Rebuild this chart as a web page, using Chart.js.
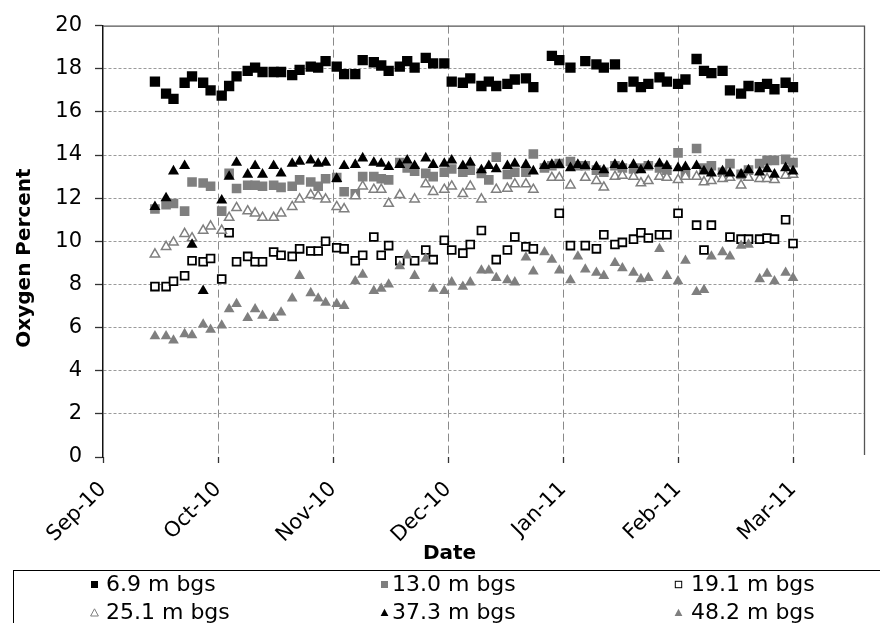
<!DOCTYPE html>
<html>
<head>
<meta charset="utf-8">
<script src="https://cdn.jsdelivr.net/npm/chart.js@4.4.0/dist/chart.umd.min.js"></script>
<style>
  html, body { margin: 0; padding: 0; background: #fff; }
  #wrap { position: relative; width: 880px; height: 623px; overflow: hidden; background: #fff; }
  #c { position: absolute; left: 0; top: 0; }
  #legendBox { position: absolute; left: 13px; top: 570px; width: 900px; height: 80px; border: 1.5px solid #000; box-sizing: border-box; }
  .lg { position: absolute; font-family: 'DejaVu Sans', sans-serif; font-size: 22px; line-height: 26px; white-space: nowrap; color: #000; }
  .mk { position: absolute; line-height: 0; }
  .mk svg { display: block; }
</style>
</head>
<body>
<div id="wrap">
  <canvas id="c" width="880" height="623"></canvas>
  <div id="legendBox"></div>
</div>
<script>
// ---------------- data ----------------
const axisStart = '2010-09-01';           // left end of the date axis
const tickStepDays = 31;                   // major unit of the date axis
const tickLabels = ['Sep-10', 'Oct-10', 'Nov-10', 'Dec-10', 'Jan-11', 'Feb-11', 'Mar-11'];
const seriesNames = ['6.9 m bgs', '13.0 m bgs', '19.1 m bgs', '25.1 m bgs', '37.3 m bgs', '48.2 m bgs'];

const dates = [
  '2010-09-15','2010-09-18','2010-09-20','2010-09-23','2010-09-25','2010-09-28','2010-09-30','2010-10-03','2010-10-05','2010-10-07',
  '2010-10-10','2010-10-12','2010-10-14','2010-10-17','2010-10-19','2010-10-22','2010-10-24','2010-10-27','2010-10-29','2010-10-31',
  '2010-11-03','2010-11-05','2010-11-08','2010-11-10','2010-11-13','2010-11-15','2010-11-17','2010-11-20','2010-11-22','2010-11-24',
  '2010-11-27','2010-11-29','2010-12-02','2010-12-04','2010-12-07','2010-12-09','2010-12-12','2010-12-14','2010-12-16','2010-12-19',
  '2010-12-21','2010-12-24','2010-12-26','2010-12-29','2010-12-31','2011-01-02','2011-01-05','2011-01-07','2011-01-09','2011-01-12',
  '2011-01-14','2011-01-17','2011-01-19','2011-01-22','2011-01-24','2011-01-26','2011-01-29','2011-01-31','2011-02-03','2011-02-05',
  '2011-02-08','2011-02-10','2011-02-12','2011-02-15','2011-02-17','2011-02-20','2011-02-22','2011-02-25','2011-02-27','2011-03-01',
  '2011-03-04','2011-03-06'
];

const o2_6_9 = [
  17.4,16.85,16.6,17.35,17.65,17.35,17.0,16.75,17.2,17.65,
  17.9,18.05,17.85,17.85,17.85,17.7,17.95,18.1,18.05,18.35,
  18.1,17.75,17.75,18.4,18.3,18.15,17.9,18.1,18.35,18.05,
  18.5,18.25,18.25,17.4,17.35,17.55,17.2,17.4,17.2,17.3,
  17.5,17.55,17.15,null,18.6,18.4,18.05,null,18.35,18.2,
  18.05,18.2,17.15,17.4,17.15,17.3,17.6,17.4,17.3,17.5,
  18.45,17.9,17.8,17.9,17.0,16.85,17.2,17.15,17.3,17.05,
  17.35,17.15
];
const o2_13_0 = [
  11.5,11.7,11.75,11.4,12.75,12.7,12.55,11.4,13.15,12.45,
  12.6,12.6,12.55,12.6,12.5,12.55,12.85,12.75,12.55,12.9,
  12.95,12.3,12.2,13.0,13.0,12.9,12.85,13.65,13.4,13.25,
  13.15,13.0,13.2,13.35,13.2,13.3,13.15,12.85,13.9,13.1,
  13.2,13.2,14.05,13.4,13.5,13.6,13.7,13.5,13.5,13.3,
  13.2,13.5,13.4,13.35,13.4,13.5,13.4,13.3,14.1,13.2,
  14.3,13.4,13.5,13.2,13.6,13.1,13.3,13.6,13.75,13.75,
  13.8,13.65
];
const o2_19_1 = [
  7.9,7.9,8.15,8.4,9.1,9.05,9.2,8.25,10.4,9.05,
  9.3,9.05,9.05,9.5,9.35,9.3,9.65,9.55,9.55,10.0,
  9.7,9.65,9.1,9.35,10.2,9.35,9.8,9.1,null,9.1,
  9.6,9.15,10.05,9.6,9.45,9.85,10.5,null,9.15,9.6,
  10.2,9.75,9.65,null,null,11.3,9.8,null,9.8,9.65,
  10.3,9.85,9.95,10.1,10.4,10.15,10.3,10.3,11.3,null,
  10.75,9.6,10.75,null,10.2,10.1,10.1,10.1,10.15,10.1,
  11.0,9.9
];
const o2_25_1 = [
  9.4,9.75,9.95,10.35,10.15,10.5,10.7,10.5,11.1,11.55,
  11.4,11.3,11.1,11.1,11.3,11.6,11.95,12.15,12.1,11.95,
  11.6,11.5,12.1,12.55,12.4,12.4,11.75,12.15,null,11.95,
  12.65,12.3,12.4,12.55,12.2,12.55,11.95,null,12.4,12.45,
  12.65,12.65,12.4,null,12.95,12.95,12.6,null,12.95,12.8,
  12.5,13.0,13.05,13.0,12.7,12.8,13.0,12.95,12.85,13.0,
  13.0,12.75,12.8,12.9,12.95,12.6,12.95,12.9,12.9,12.85,
  13.05,13.1
];
const o2_37_3 = [
  11.6,12.0,13.25,13.5,9.85,7.7,null,11.9,13.0,13.65,
  13.1,13.5,13.1,13.5,13.15,13.6,13.7,13.75,13.6,13.65,
  12.9,13.5,13.55,13.85,13.65,13.6,13.45,13.55,13.75,13.5,
  13.85,13.55,13.6,13.75,13.5,13.65,13.3,13.5,13.35,13.5,
  13.6,13.55,13.25,13.5,13.55,13.55,13.4,13.55,13.5,13.45,
  13.3,13.55,13.5,13.55,13.3,13.5,13.6,13.5,13.4,13.45,
  13.5,13.25,13.15,13.25,13.15,13.1,13.3,13.2,13.35,13.1,
  13.4,13.25
];
const o2_48_2 = [
  5.6,5.6,5.4,5.7,5.65,6.15,5.9,6.1,6.85,7.1,
  6.45,6.85,6.55,6.45,6.7,7.35,8.4,7.6,7.35,7.15,
  7.1,7.0,8.15,8.45,7.7,7.8,8.0,8.85,9.35,8.4,
  9.2,7.8,7.7,8.1,7.9,8.1,8.65,8.65,8.3,8.2,
  8.1,9.25,8.6,9.5,9.15,8.65,8.2,9.3,8.7,8.55,
  8.4,9.0,8.75,8.55,8.25,8.3,9.65,8.4,8.15,9.1,
  7.65,7.75,9.3,9.5,9.3,9.8,9.85,8.25,8.5,8.15,
  8.55,8.3
];
const yTicks = { min: 0, max: 20, step: 2 };

// ---------------- helpers ----------------
const DAY = 86400000;
const t0 = Date.parse(axisStart + 'T00:00:00Z');
const toDays = s => Math.round((Date.parse(s + 'T00:00:00Z') - t0) / DAY);
const xDays = dates.map(toDays);
const toPoints = vals => vals.map((v, i) => ({ x: xDays[i], y: v })).filter(p => p.y !== null);

const seriesValues = [o2_6_9, o2_13_0, o2_19_1, o2_25_1, o2_37_3, o2_48_2];
const GRAY = '#7f7f7f';
const styles = [
  { pointStyle: 'rect',     radius: 7.3, bg: '#000', border: '#000', bw: 0 },
  { pointStyle: 'rect',     radius: 6.8, bg: GRAY,   border: GRAY,   bw: 0 },
  { pointStyle: 'rect',     radius: 5.5, bg: '#fff', border: '#000', bw: 1.8 },
  { pointStyle: 'triangle', radius: 5.4, bg: '#fff', border: GRAY,   bw: 1.5 },
  { pointStyle: 'triangle', radius: 6.4, bg: '#000', border: '#000', bw: 0 },
  { pointStyle: 'triangle', radius: 6.2, bg: GRAY,   border: GRAY,   bw: 0 }
];

const datasets = seriesValues.map((vals, i) => ({
  label: seriesNames[i],
  data: toPoints(vals),
  showLine: false,
  pointStyle: styles[i].pointStyle,
  pointRadius: styles[i].radius,
  pointHoverRadius: styles[i].radius,
  pointBackgroundColor: styles[i].bg,
  pointBorderColor: styles[i].border,
  pointBorderWidth: styles[i].bw,
  order: seriesValues.length - i
}));

const tickValues = tickLabels.map((_, i) => i * tickStepDays);
const xMax = 205.4;

const framePlugin = {
  id: 'frame',
  beforeDatasetsDraw(chart) {
    const { ctx, chartArea: a } = chart;
    ctx.save();
    ctx.strokeStyle = '#555';
    ctx.lineWidth = 1.3;
    ctx.beginPath();
    ctx.moveTo(a.left, a.top + 0.5);
    ctx.lineTo(a.right - 0.5, a.top + 0.5);
    ctx.lineTo(a.right - 0.5, a.bottom - 2);
    ctx.stroke();
    ctx.restore();
  },
  afterDraw(chart) {
    const { ctx } = chart;
    ctx.save();
    ctx.fillStyle = '#000';
    ctx.font = 'bold 20px "DejaVu Sans"';
    ctx.textAlign = 'center';
    ctx.textBaseline = 'alphabetic';
    ctx.fillText('Date', 449.5, 559);
    ctx.translate(30, 258);
    ctx.rotate(-Math.PI / 2);
    ctx.fillText('Oxygen Percent', 0, 0);
    ctx.restore();
  }
};

Chart.defaults.font.family = '"DejaVu Sans", sans-serif';
Chart.defaults.color = '#000';

new Chart(document.getElementById('c'), {
  type: 'scatter',
  data: { datasets },
  options: {
    responsive: false,
    animation: false,
    events: [],
    layout: { padding: { top: 21, right: 15, left: 0, bottom: 0 }, autoPadding: false },
    plugins: { legend: { display: false }, tooltip: { enabled: false }, title: { display: false } },
    scales: {
      x: {
        type: 'linear',
        min: 0,
        max: xMax,
        afterBuildTicks: s => { s.ticks = tickValues.map(v => ({ value: v })); },
        afterFit: s => { s.height = 166; },
        ticks: {
          autoSkip: false,
          maxRotation: 45,
          minRotation: 45,
          padding: 14,
          font: { size: 21 },
          color: '#000',
          callback: (v, i) => tickLabels[i]
        },
        grid: {
          color: c => (c.tick && c.tick.value === 0) ? 'rgba(0,0,0,0)' : '#8a8a8a',
          lineWidth: 1,
          tickLength: 6,
          tickColor: '#333',
          tickWidth: 1.3
        },
        border: { display: false, dash: [8, 4] }
      },
      y: {
        min: yTicks.min,
        max: yTicks.max,
        afterFit: s => { s.width = 103; },
        ticks: { stepSize: yTicks.step, padding: 13, font: { size: 21 }, color: '#000' },
        grid: {
          color: c => (c.tick && (c.tick.value === yTicks.min || c.tick.value === yTicks.max)) ? 'rgba(0,0,0,0)' : '#9a9a9a',
          lineWidth: 1,
          tickLength: 8,
          tickColor: '#333',
          tickWidth: 1.3
        },
        border: { display: true, color: '#111', width: 1.5, dash: [3, 2] }
      }
    }
  },
  plugins: [framePlugin]
});

// ---------------- legend (HTML) ----------------
const legendSlots = [
  { mx: 94, tx: 106, cy: 584 }, { mx: 384, tx: 392, cy: 584 }, { mx: 678, tx: 691, cy: 584 },
  { mx: 94, tx: 106, cy: 612 }, { mx: 384, tx: 392, cy: 612 }, { mx: 678, tx: 691, cy: 612 }
];
const wrap = document.getElementById('wrap');
function markerSVG(st) {
  const s = 9;
  let shape;
  if (st.pointStyle === 'rect') {
    const half = st.bw ? 3.2 : 3.5;
    shape = `<rect x="${4.5 - half}" y="${4.5 - half}" width="${2 * half}" height="${2 * half}" fill="${st.bg}" stroke="${st.bw ? st.border : 'none'}" stroke-width="${st.bw ? 1 : 0}"/>`;
  } else {
    shape = `<polygon points="4.5,0.8 8.4,8 0.6,8" fill="${st.bg}" stroke="${st.bw ? st.border : 'none'}" stroke-width="${st.bw ? 1 : 0}"/>`;
  }
  return `<svg width="${s}" height="${s}" viewBox="0 0 ${s} ${s}">${shape}</svg>`;
}
seriesNames.forEach((name, i) => {
  const slot = legendSlots[i];
  const mk = document.createElement('div');
  mk.className = 'mk';
  mk.style.left = (slot.mx - 4.5) + 'px';
  mk.style.top = (slot.cy - 4.5) + 'px';
  mk.innerHTML = markerSVG(styles[i]);
  wrap.appendChild(mk);
  const tx = document.createElement('div');
  tx.className = 'lg';
  tx.style.left = slot.tx + 'px';
  tx.style.top = (slot.cy - 12.6) + 'px';
  tx.textContent = name;
  wrap.appendChild(tx);
});
</script>
</body>
</html>
